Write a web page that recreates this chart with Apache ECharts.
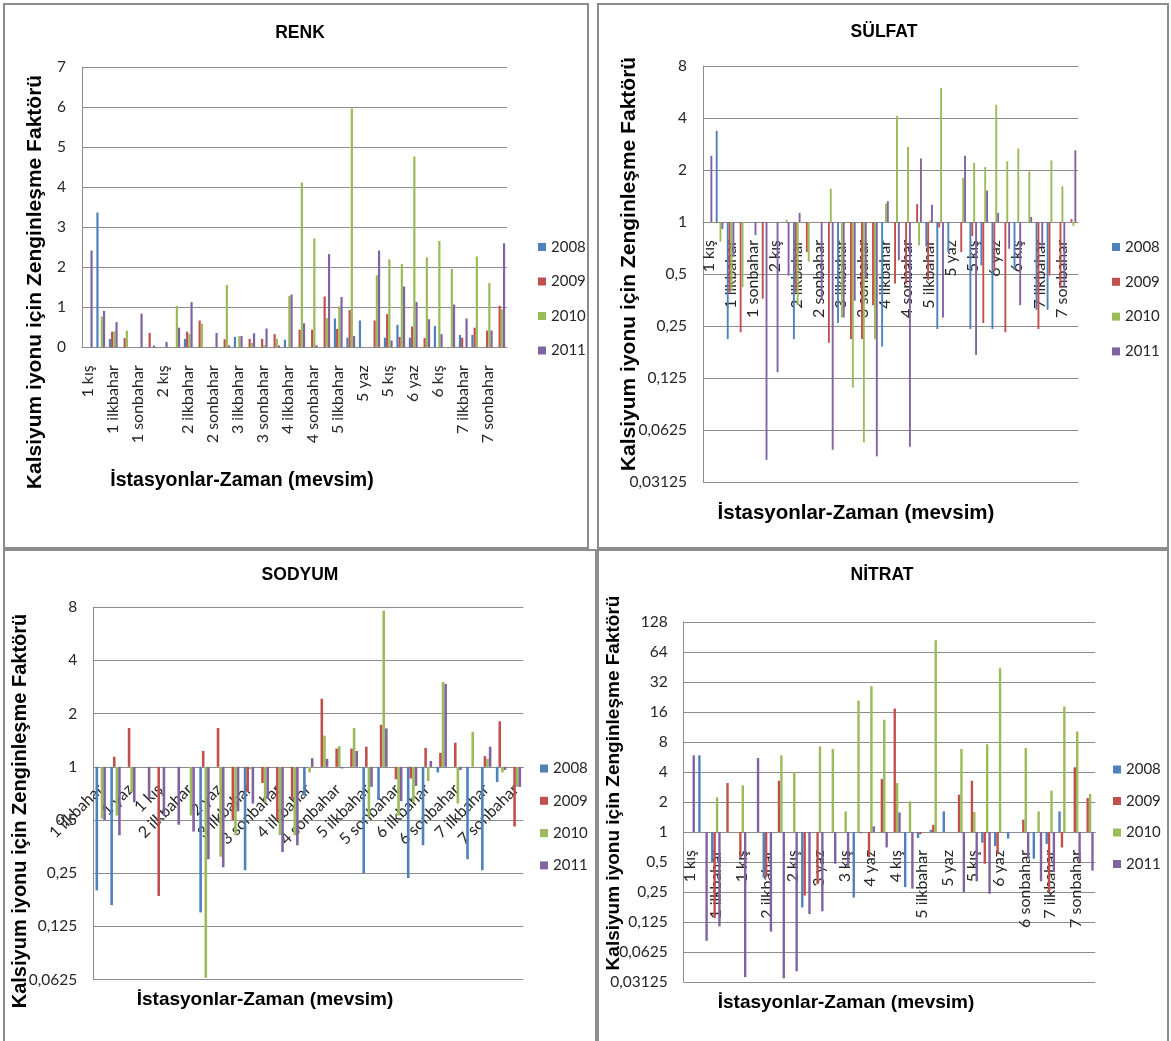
<!DOCTYPE html>
<html>
<head>
<meta charset="utf-8">
<script src="https://cdn.jsdelivr.net/npm/echarts@6/dist/echarts.min.js"></script>
<style>
html, body { margin: 0; padding: 0; background: #fff; overflow: hidden; }
.panel { position: absolute; border: 2px solid #8c8c8c; box-sizing: border-box; }
</style>
</head>
<body>
<div id="renk" class="panel" style="left:3px;top:3px;width:586px;height:546px"></div>
<div id="sulfat" class="panel" style="left:597px;top:3px;width:572px;height:546px"></div>
<div id="sodyum" class="panel" style="left:3px;top:549px;width:594px;height:496px"></div>
<div id="nitrat" class="panel" style="left:597px;top:549px;width:572px;height:496px"></div>
<script>
var years = ["2008", "2009", "2010", "2011"];
var colors = ["#4F81BD", "#C0504D", "#9BBB59", "#8064A2"];

// RENK (SÜLFAT panel shows the same values on a log axis)
var renkCats = ["1 kış", "1 yaz", "1 ilkbahar", "1 yaz", "1 sonbahar", "1 kış", "2 kış", "2 yaz", "2 ilkbahar", "2 yaz",
    "2 sonbahar", "3 kış", "3 ilkbahar", "3 yaz", "3 sonbahar", "4 kış", "4 ilkbahar", "4 yaz", "4 sonbahar", "5 kış",
    "5 ilkbahar", "5 sonbahar", "5 yaz", "5 ilkbahar", "5 kış", "6 ilkbahar", "6 yaz", "6 sonbahar", "6 kış", "7 kış",
    "7 ilkbahar", "7 yaz", "7 sonbahar", "7 kış"];
var renk2008 = [null, 3.37, 0.21, null, null, null, null, null, 0.21, null, null, null, 0.26, null, null, null, 0.19,
    null, null, null, 0.72, 0.24, 0.67, null, 0.24, 0.56, 0.24, null, 0.53, null, 0.31, 0.31, null, null];
var renk2009 = [null, null, 0.39, 0.23, null, 0.36, null, null, 0.39, 0.67, null, 0.2, null, 0.21, 0.21, 0.33, null,
    0.44, 0.44, 1.27, 0.46, 0.93, null, 0.67, 0.83, 0.26, 0.52, 0.23, null, null, 0.24, 0.49, 0.42, 1.04];
var renk2010 = [null, 0.77, 0.4, 0.42, null, null, null, 1.03, 0.33, 0.59, null, 1.56, 0.28, 0.11, 0.053, 0.21, 1.28,
    4.12, 2.72, 0.73, 1.02, 5.97, null, 1.8, 2.2, 2.08, 4.77, 2.25, 2.66, 1.96, null, 2.27, 1.61, 0.95];
var renk2011 = [2.42, 0.91, 0.63, null, 0.84, 0.042, 0.135, 0.49, 1.13, null, 0.36, 0.048, 0.28, 0.35, 0.47, 0.044,
    1.32, 0.6, 0.05, 2.33, 1.26, 0.28, null, 2.42, 0.17, 1.52, 1.13, 0.7, 0.33, 1.07, 0.72, null, 0.42, 2.6];
var renkTicks = [0, 1, 2, 3, 4, 5, 6, 7];
var sulfatTicks = [0.03125, 0.0625, 0.125, 0.25, 0.5, 1, 2, 4, 8];

// SODYUM
var sodyumCats = ["1 ilkbahar", "1 sonbahar", "1 yaz", "1 sonbahar", "1 kış", "2 kış", "2 ilkbahar", "2 sonbahar",
    "2 yaz", "2 kış", "3 ilkbahar", "3 yaz", "3 sonbahar", "3 kış", "4 ilkbahar", "4 yaz", "4 sonbahar", "4 kış",
    "5 ilkbahar", "5 yaz", "5 sonbahar", "5 kış", "6 ilkbahar", "6 yaz", "6 sonbahar", "6 kış", "7 ilkbahar", "7 yaz",
    "7 sonbahar"];
var sodyum2008 = [0.2, 0.165, null, null, null, null, null, 0.15, null, null, 0.26, null, null, null, 0.69, null, null,
    null, 0.25, 0.65, null, 0.235, 0.36, 0.93, null, 0.3, 0.26, 0.82, null];
var sodyum2009 = [null, 1.14, 1.66, null, 0.186, null, null, 1.23, 1.66, 0.5, 0.72, 0.81, 0.5, 0.66, null, 2.43, 1.27,
    1.27, 1.3, 1.73, 0.85, 0.86, 1.28, 1.2, 1.37, null, 1.15, 1.81, 0.46];
var sodyum2010 = [0.51, 0.53, 0.72, null, null, null, 0.53, 0.064, 0.31, 0.41, 0.97, 0.63, 0.41, 0.41, 0.93, 1.5, 1.31,
    1.66, 0.52, 7.65, 0.53, 0.63, 0.83, 3.02, 0.62, 1.58, 1.11, 0.93, 0.77];
var sodyum2011 = [0.5, 0.41, 0.63, 0.66, 0.53, 0.47, 0.43, 0.3, 0.27, 0.56, 0.62, 0.66, 0.33, 0.36, 1.12, 1.11, 0.98,
    1.23, 0.77, 1.65, 0.64, 0.78, 1.08, 2.95, 0.96, null, 1.3, 0.96, 0.77];
var sodyumTicks = [0.0625, 0.125, 0.25, 0.5, 1, 2, 4, 8];

// NİTRAT
var nitratCats = ["1 kış", "1 sonbahar", "1 ilkbahar", "1 yaz", "1 kış", "2 sonbahar", "2 ilkbahar", "2 yaz", "2 kış",
    "3 ilkbahar", "3 yaz", "3 sonbahar", "3 kış", "4 ilkbahar", "4 yaz", "4 sonbahar", "4 kış", "5 sonbahar",
    "5 ilkbahar", "5 sonbahar", "5 yaz", "5 ilkbahar", "5 kış", "6 ilkbahar", "6 yaz", "6 kış", "6 sonbahar", "7 kış",
    "7 ilkbahar", "7 yaz", "7 sonbahar", "7 kış"];
var nitrat2008 = [null, 5.88, 0.5, null, null, null, 0.35, null, null, 0.175, null, null, null, 0.22, null, null, null,
    0.28, 0.87, 1.05, 1.61, null, null, 0.78, 0.72, 0.86, null, 0.54, 0.76, 1.61, null, null];
var nitrat2009 = [null, null, 0.137, 3.1, 0.55, null, 0.35, 3.27, null, 0.23, 0.3, null, null, null, 0.56, 3.4, 17.3,
    null, 0.95, 1.18, null, 2.37, 3.27, 0.48, 0.6, null, 1.33, null, 0.25, 0.7, 4.46, 2.19];
var nitrat2010 = [null, null, 2.23, null, 2.94, null, null, 5.88, 4.0, null, 7.22, 6.8, 1.61, 20.8, 29, 13.4, 3.1, 2.03,
    null, 84, null, 6.8, 1.59, 7.6, 44, null, 6.97, 1.61, 2.6, 18.2, 10.2, 2.41];
var nitrat2011 = [5.88, 0.081, 0.113, null, 0.035, 5.53, 0.1, 0.034, 0.04, 0.15, 0.16, 0.48, 0.45, 0.97, 1.14, 0.7, 1.57,
    0.27, null, null, null, 0.25, 0.32, 0.24, null, null, 0.55, 0.32, 0.4, null, 0.5, 0.41];
var nitratTicks = [0.03125, 0.0625, 0.125, 0.25, 0.5, 1, 2, 4, 8, 16, 32, 64, 128];

var yTitle = "Kalsiyum iyonu için Zenginleşme Faktörü";
var xTitle = "İstasyonlar-Zaman (mevsim)";
var labelFont = "Lato";
var boldFont = "Liberation Sans";

function fmt(v) {
    return String(v).replace(".", ",");
}

function makeChart(id, c) {
    var chart = echarts.init(document.getElementById(id));
    var ticks = c.ticks;
    var lo = ticks[0], hi = ticks[ticks.length - 1];
    var xOffset = 0;
    var yAxis;
    if (c.log) {
        // category axis crosses the value axis at 1
        xOffset = -c.grid.height * (0 - Math.log2(lo)) / (Math.log2(hi) - Math.log2(lo));
        yAxis = { type: "log", logBase: 2, min: lo, max: hi, interval: 1 };
    } else {
        yAxis = { type: "value", min: lo, max: hi, interval: ticks[1] - ticks[0] };
    }
    yAxis.axisLine = { show: true, lineStyle: { color: "#8c8c8c" } };
    yAxis.axisTick = { show: false };
    yAxis.splitLine = { show: true, lineStyle: { color: "#8c8c8c", width: 1 } };
    yAxis.axisLabel = { formatter: fmt, fontFamily: labelFont, fontSize: 15.5, color: "#262626", margin: 16 };

    var option = {
        animation: false,
        grid: {
            left: c.grid.left, top: c.grid.top, width: c.grid.width, height: c.grid.height,
            containLabel: false, outerBoundsMode: "none"
        },
        legend: {
            orient: "vertical", left: c.legend.left, top: c.legend.top, itemGap: c.legend.gap,
            itemWidth: 8, itemHeight: 8, icon: "rect", data: years,
            textStyle: { fontFamily: labelFont, fontSize: 15, color: "#262626" }
        },
        xAxis: {
            type: "category",
            data: c.cats,
            offset: xOffset,
            axisLine: { show: true, onZero: false, lineStyle: { color: "#8c8c8c" } },
            axisTick: { show: false },
            splitLine: { show: false },
            axisLabel: {
                interval: 1, rotate: c.rotate, margin: c.labelMargin,
                fontFamily: labelFont, fontSize: 16, color: "#262626"
            }
        },
        yAxis: yAxis,
        series: c.data.map(function (arr, i) {
            return {
                name: years[i], type: "bar", data: arr, barWidth: c.barWidth, barGap: "0%",
                itemStyle: { color: colors[i] }
            };
        }),
        graphic: [
            {
                type: "text", x: c.title[1], y: c.title[2],
                style: { text: c.title[0], font: "bold 17.5px '" + boldFont + "'", fill: "#000", align: "center", verticalAlign: "middle" }
            },
            {
                type: "text", x: c.yTitle[0], y: c.yTitle[1], rotation: Math.PI / 2,
                style: { text: yTitle, font: "bold " + c.yTitle[2] + "px '" + boldFont + "'", fill: "#000", align: "center", verticalAlign: "middle" }
            },
            {
                type: "text", x: c.xTitle[0], y: c.xTitle[1],
                style: { text: xTitle, font: "bold " + c.xTitle[2] + "px '" + boldFont + "'", fill: "#000", align: "center", verticalAlign: "middle" }
            }
        ]
    };
    chart.setOption(option);
    return chart;
}

makeChart("renk", {
    cats: renkCats, ticks: renkTicks, log: false,
    data: [renk2008, renk2009, renk2010, renk2011],
    grid: { left: 77, top: 62.3, width: 425, height: 280 },
    legend: { left: 528, top: 229.5, gap: 19.5 },
    rotate: 90, labelMargin: 18, barWidth: 2.2,
    title: ["RENK", 295, 28], yTitle: [30, 277, 21], xTitle: [237, 476, 19.5]
});

makeChart("sulfat", {
    cats: renkCats, ticks: sulfatTicks, log: true,
    data: [renk2008, renk2009, renk2010, renk2011],
    grid: { left: 104, top: 61, width: 375, height: 416 },
    legend: { left: 508, top: 229.5, gap: 19.8 },
    rotate: 90, labelMargin: 18, barWidth: 1.9,
    title: ["SÜLFAT", 285, 27], yTitle: [30, 259, 21], xTitle: [257, 508, 20.5]
});

makeChart("sodyum", {
    cats: sodyumCats, ticks: sodyumTicks, log: true,
    data: [sodyum2008, sodyum2009, sodyum2010, sodyum2011],
    grid: { left: 88.3, top: 56.3, width: 430, height: 372.3 },
    legend: { left: 530, top: 205, gap: 17.3 },
    rotate: 45, labelMargin: 20, barWidth: 2.6,
    title: ["SODYUM", 295, 24], yTitle: [15, 260, 20], xTitle: [260, 449, 19]
});

makeChart("nitrat", {
    cats: nitratCats, ticks: nitratTicks, log: true,
    data: [nitrat2008, nitrat2009, nitrat2010, nitrat2011],
    grid: { left: 84.7, top: 71, width: 411.6, height: 360 },
    legend: { left: 509, top: 206, gap: 16.5 },
    rotate: 90, labelMargin: 18, barWidth: 2.4,
    title: ["NİTRAT", 283, 24], yTitle: [15, 232, 19], xTitle: [247, 452, 19]
});
</script>
</body>
</html>
